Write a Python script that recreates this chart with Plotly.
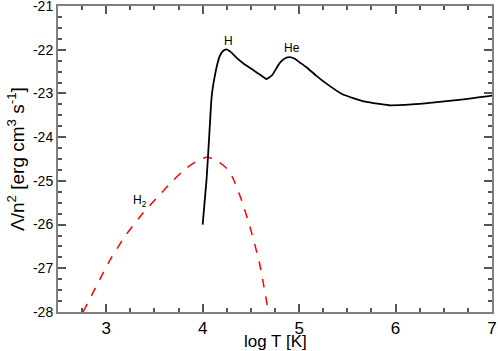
import plotly.graph_objects as go

# atomic (H + He) cooling curve
logT_atomic = [4.0, 4.04, 4.07, 4.09, 4.106, 4.124, 4.15, 4.175, 4.21, 4.245, 4.29, 4.35, 4.42,
               4.52, 4.6, 4.66, 4.72, 4.8, 4.86, 4.9, 4.95, 5.0, 5.07, 5.17, 5.28, 5.45,
               5.69, 5.93, 6.17, 6.38, 6.73, 7.0]
lam_atomic = [-26.0, -24.98, -23.9, -23.15, -22.85, -22.62, -22.35, -22.16, -22.03, -21.99,
              -22.05, -22.18, -22.31, -22.46, -22.58, -22.67, -22.58, -22.3, -22.19, -22.17,
              -22.2, -22.28, -22.39, -22.58, -22.77, -23.02, -23.19, -23.27, -23.25, -23.21,
              -23.13, -23.05]

# molecular hydrogen cooling
logT_h2 = [2.76, 3.04, 3.2, 3.38, 3.55, 3.69, 3.83, 3.93, 4.04, 4.12, 4.2, 4.25, 4.31, 4.4,
           4.49, 4.59, 4.68]
lam_h2 = [-28.0, -26.81, -26.25, -25.74, -25.33, -25.0, -24.71, -24.56, -24.46, -24.5,
          -24.62, -24.72, -24.92, -25.42, -26.05, -26.89, -27.98]

labels = ["H", "He", "H<sub>2</sub>"]
label_x = [4.27, 4.93, 3.35]
label_y = [-21.8, -21.97, -25.45]

x_ticks = [3, 4, 5, 6, 7]
y_ticks = [-28, -27, -26, -25, -24, -23, -22, -21]

fig = go.Figure()
fig.add_trace(go.Scatter(x=logT_h2, y=lam_h2, mode="lines",
                         line=dict(color="red", width=1.5, dash="dash", shape="spline",
                                   smoothing=0.6)))
fig.add_trace(go.Scatter(x=logT_atomic, y=lam_atomic, mode="lines",
                         line=dict(color="black", width=1.8, shape="spline", smoothing=0.5)))
for t, x, y in zip(labels, label_x, label_y):
    fig.add_annotation(x=x, y=y, text=t, showarrow=False, font=dict(size=12, color="black"))

# frame with ticks on all four sides, pointing inwards
axis_style = dict(showline=True, linecolor="#808080", linewidth=2, mirror="ticks",
                  ticks="inside", ticklen=8, tickwidth=2, tickcolor="#555555",
                  showgrid=False, zeroline=False, automargin=False, ticklabeloverflow="allow",
                  minor=dict(dtick=0.25, ticks="inside", ticklen=4, tickwidth=2,
                             tickcolor="#555555", showgrid=False))
fig.update_xaxes(range=[2.5, 7], tickvals=x_ticks, ticktext=[str(v) for v in x_ticks],
                 tickfont=dict(size=17, color="black"), **axis_style)
fig.update_yaxes(range=[-28, -21], tickvals=y_ticks, ticktext=[str(v) for v in y_ticks],
                 tickfont=dict(size=14, color="black"), **axis_style)
fig.add_annotation(text="log T [K]", xref="paper", yref="paper", x=0.5, y=0, yshift=-18,
                   yanchor="top", showarrow=False, font=dict(size=17, color="black"))
fig.add_annotation(text="Λ/n<sup>2</sup> [erg cm<sup>3</sup> s<sup>-1</sup>]", xref="paper",
                   yref="paper", x=0, xshift=-28, y=0.5, xanchor="right", textangle=-90,
                   showarrow=False, font=dict(size=19, color="black"))
fig.update_layout(width=498, height=351, showlegend=False, plot_bgcolor="white",
                  paper_bgcolor="white", margin=dict(l=58, r=6, t=6, b=39),
                  font=dict(family="Liberation Sans, Arial", color="black"))
fig.write_html("out.html", config={"displayModeBar": False},
               post_script="document.body.style.margin='0';")
